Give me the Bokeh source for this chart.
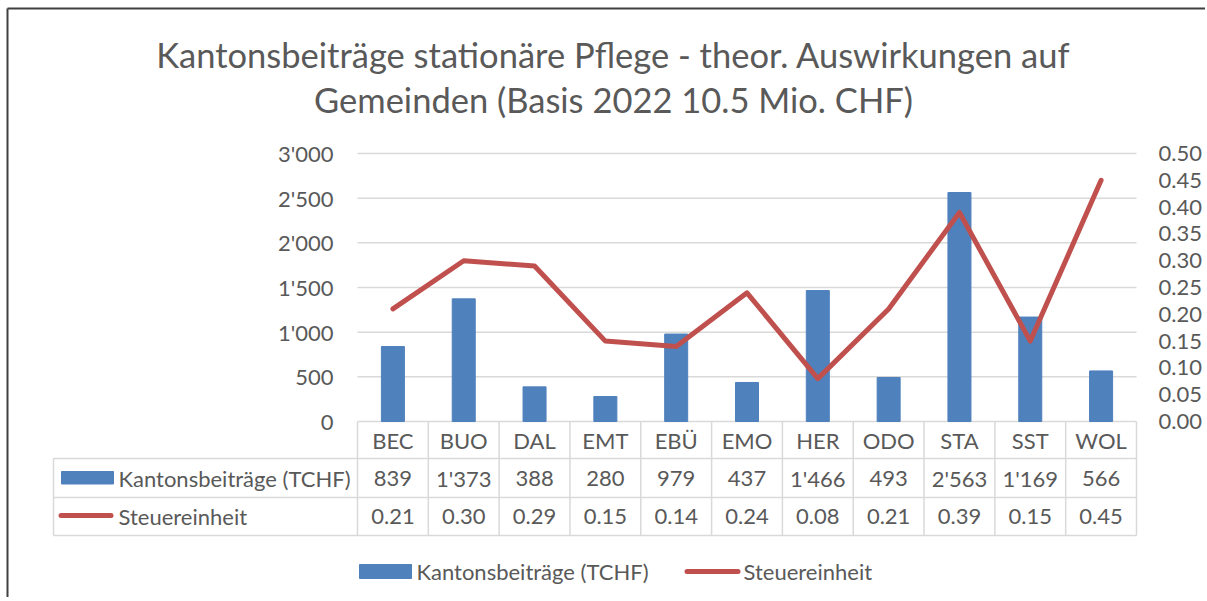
from bokeh.plotting import figure
from bokeh.models import Range1d, LinearAxis, FixedTicker, NumeralTickFormatter
from bokeh.core.properties import value
from bokeh.embed import file_html
from bokeh.resources import INLINE

# ---------------- data ----------------
title_line1 = "Kantonsbeiträge stationäre Pflege - theor. Auswirkungen auf"
title_line2 = "Gemeinden (Basis 2022 10.5 Mio. CHF)"
categories = ["BEC", "BUO", "DAL", "EMT", "EBÜ", "EMO", "HER", "ODO", "STA", "SST", "WOL"]
beitraege = [839, 1373, 388, 280, 979, 437, 1466, 493, 2563, 1169, 566]
steuereinheit = [0.21, 0.30, 0.29, 0.15, 0.14, 0.24, 0.08, 0.21, 0.39, 0.15, 0.45]
series_names = ["Kantonsbeiträge (TCHF)", "Steuereinheit"]
left_ticks = [0, 500, 1000, 1500, 2000, 2500, 3000]
left_tick_labels = ["0", "500", "1'000", "1'500", "2'000", "2'500", "3'000"]
right_ticks = [0.0, 0.05, 0.1, 0.15, 0.2, 0.25, 0.3, 0.35, 0.4, 0.45, 0.5]

# ---------------- styling / layout ----------------
FONT = "Lato"
TXT = "#595959"
BLUE = "#4F81BD"
RED = "#C0504D"
GRID = "#D9D9D9"
BORDER = "#404040"
BODY = "22px"
TITLE = "34.5px"
W, H = 1205, 597
PL, PR, PT, PB = 357, 1136, 153, 421  # plot area (page px)
n = len(categories)
cat_w = (PR - PL) / n
YMAX = left_ticks[-1]
RMAX = right_ticks[-1]


def dx(px):  # page x -> x data (category index units)
    return (px - PL) / cat_w


def dy(py):  # page y -> primary y data
    return (PB - py) * YMAX / (PB - PT)


positions = [i + 0.5 for i in range(n)]

p = figure(width=W, height=H, output_backend="svg", toolbar_location=None,
           x_range=Range1d(dx(0), dx(W)), y_range=Range1d(dy(H), dy(0)),
           x_axis_type=None, y_axis_type=None, min_border=0)
p.outline_line_color = None
p.background_fill_color = "white"
p.border_fill_color = "white"
p.extra_y_ranges = {"right": Range1d(dy(H) * RMAX / YMAX, dy(0) * RMAX / YMAX)}


def style_axis(ax, standoff):
    ax.axis_line_color = None
    ax.major_tick_line_color = None
    ax.minor_tick_line_color = None
    ax.major_tick_out = 0
    ax.major_tick_in = 0
    ax.major_label_standoff = standoff
    ax.major_label_text_font = FONT
    ax.major_label_text_font_size = BODY
    ax.major_label_text_color = TXT


yl = LinearAxis(ticker=FixedTicker(ticks=left_ticks), fixed_location=0.0,
                major_label_overrides={t: s for t, s in zip(left_ticks, left_tick_labels)})
style_axis(yl, 24)
p.add_layout(yl, "left")

yr = LinearAxis(y_range_name="right", ticker=FixedTicker(ticks=right_ticks),
                formatter=NumeralTickFormatter(format="0.00"), fixed_location=float(n))
style_axis(yr, 22)
p.add_layout(yr, "right")

xa = LinearAxis(ticker=FixedTicker(ticks=positions), fixed_location=0.0,
                major_label_overrides={x: c for x, c in zip(positions, categories)})
style_axis(xa, 5)
p.add_layout(xa, "below")

# gridlines
p.segment(x0=[0] * len(left_ticks), x1=[n] * len(left_ticks), y0=left_ticks, y1=left_ticks,
          line_color=GRID, line_width=1.5)

# bars and line
p.vbar(x=positions, top=beitraege, width=0.325, color=BLUE)
p.line(x=positions, y=steuereinheit, y_range_name="right", line_color=RED,
       line_width=5, line_join="round", line_cap="round")


def text(x, y, s, size=BODY, align="left"):
    p.text(x=x, y=y, text=s, text_font=value(FONT), text_font_size=size,
           text_color=TXT, text_align=align, text_baseline="middle")


# outer border (top and left)
p.segment(x0=[dx(7), dx(7)], y0=[dy(8), dy(8)], x1=[dx(W), dx(7)], y1=[dy(8), dy(H)],
          line_color=BORDER, line_width=2)

# title
text([dx(613)], [dy(54)], [title_line1], size=TITLE, align="center")
text([dx(613)], [dy(99)], [title_line2], size=TITLE, align="center")

# table grid
row_lines = [458, 497, 535]
p.segment(x0=[dx(53)] * 3, x1=[n] * 3, y0=[dy(r) for r in row_lines], y1=[dy(r) for r in row_lines],
          line_color=GRID, line_width=1.5)
p.segment(x0=list(range(n + 1)), x1=list(range(n + 1)), y0=[0] * (n + 1), y1=[dy(535)] * (n + 1),
          line_color=GRID, line_width=1.5)
p.segment(x0=[dx(53)], x1=[dx(53)], y0=[dy(458)], y1=[dy(535)], line_color=GRID, line_width=1.5)

# table rows
row1_y, row2_y = dy(477.5), dy(515.5)
text(positions, [row1_y] * n, [f"{v:,}".replace(",", "'") for v in beitraege], align="center")
text(positions, [row2_y] * n, [f"{v:.2f}" for v in steuereinheit], align="center")

# table row headers with swatches
p.quad(left=[dx(61)], right=[dx(113)], bottom=[dy(483.5)], top=[dy(471)], color=BLUE)
text([dx(118)], [row1_y], [series_names[0]])
p.segment(x0=[dx(60.5)], x1=[dx(110.5)], y0=[dy(515)], y1=[dy(515)], line_color=RED,
          line_width=5, line_cap="round")
text([dx(118)], [row2_y], [series_names[1]])

# legend
leg_y = dy(571)
p.quad(left=[dx(359)], right=[dx(411)], bottom=[dy(578)], top=[dy(564)], color=BLUE)
text([dx(416)], [leg_y], [series_names[0]])
p.segment(x0=[dx(686.5)], x1=[dx(737.5)], y0=[leg_y], y1=[leg_y], line_color=RED,
          line_width=5, line_cap="round")
text([dx(743)], [leg_y], [series_names[1]])

open("out.html", "w").write(file_html(p, INLINE))
